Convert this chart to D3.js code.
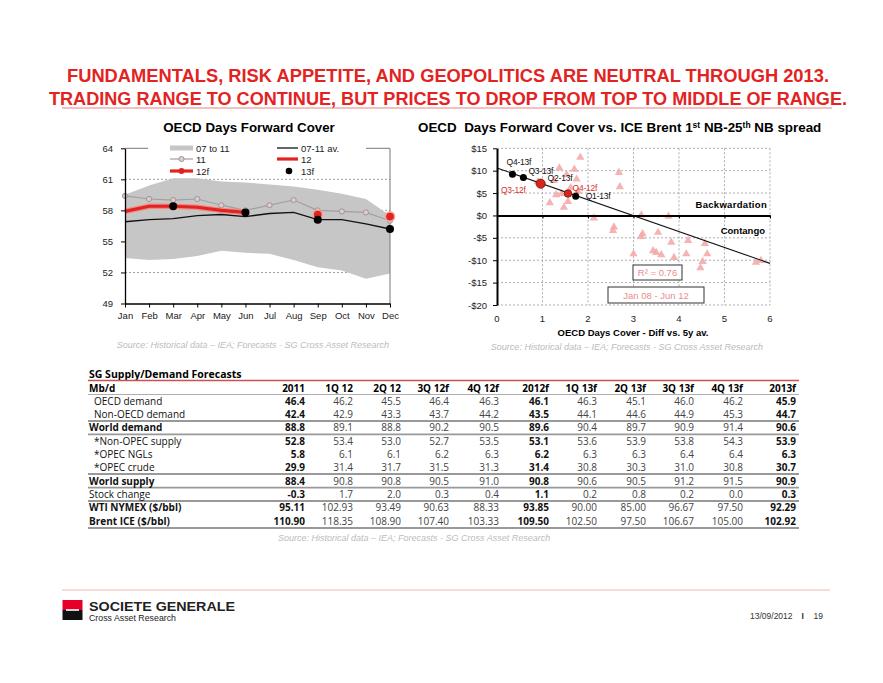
<!DOCTYPE html>
<html>
<head>
<meta charset="utf-8">
<script src="https://cdn.jsdelivr.net/npm/d3@7"></script>
<style>
    body { margin: 0; background: #fff; }
    svg { display: block; }
</style>
</head>
<body>
<div id="slide"></div>
<script>
/**
 *
 * Slide 19 - OECD forward cover & SG supply/demand table
 *
 */

// Left chart - OECD days forward cover
var months = ['Jan', 'Feb', 'Mar', 'Apr', 'May', 'Jun', 'Jul', 'Aug', 'Sep', 'Oct', 'Nov', 'Dec'];
var range0711Hi = [59.5, 60.4, 61.1, 61.1, 60.8, 60.7, 60.5, 60.3, 60.0, 59.6, 59.1, 57.5];
var range0711Lo = [53.4, 53.2, 53.3, 53.6, 54.1, 53.9, 53.8, 53.2, 52.5, 52.2, 51.4, 51.9];
var avg0711 = [56.9, 57.1, 57.2, 57.5, 57.6, 57.4, 57.7, 57.8, 57.1, 57.1, 56.7, 56.2];
var series11 = [59.4, 59.1, 59.0, 59.1, 58.5, 58.0, 58.5, 59.0, 58.0, 57.9, 57.8, 57.0];
var series12 = [57.9, 58.4, 58.4, 58.3, 58.0, 57.8];
var months12f = ['Sep', 'Dec'];
var series12f = [57.6, 57.4];
var months13f = ['Mar', 'Jun', 'Sep', 'Dec'];
var series13f = [58.4, 57.8, 57.1, 56.2];
var leftTicks = [49, 52, 55, 58, 61, 64];

// Right chart - forward cover vs Brent 1st-25th NB spread (Jan 08 - Jun 12)
var histCover = [1.83, 1.37, 1.70, 1.53, 1.75, 1.16, 1.47, 1.56, 1.42, 1.78, 0.90, 1.25, 1.30, 1.62,
    2.68, 2.70, 2.13, 2.57, 3.17, 3.77, 3.54, 3.20, 3.17, 3.83, 4.20, 4.57, 3.00, 3.43, 3.50,
    3.61, 3.89, 4.16, 4.62, 4.52, 4.47, 5.69, 5.80, 2.55];
var histSpread = [13.0, 10.6, 10.3, 9.1, 8.1, 2.8, 1.8, 3.1, 4.9, 5.4, 7.5, 7.8, 4.6, 6.2,
    9.6, 6.4, -0.6, -2.6, 0.1, -0.2, -3.8, -4.1, -4.7, -6.0, -5.6, -6.3, -8.6, -7.9, -8.3,
    -8.8, -9.4, -8.6, -8.6, -10.3, -11.7, -10.5, -10.1, -3.4];
var fcLabels = ['Q4-13f', 'Q3-13f', 'Q2-13f', 'Q3-12f', 'Q4-12f', 'Q1-13f'];
var fcCover = [0.34, 0.58, 0.98, 0.96, 1.56, 1.73];
var fcSpread = [9.2, 8.5, 7.1, 7.1, 4.9, 4.3];
var trendIntercept = 10.6;
var trendSlope = -3.55;
var spreadTicks = [-20, -15, -10, -5, 0, 5, 10, 15];
var coverTicks = [0, 1, 2, 3, 4, 5, 6];

// SG supply / demand table
var tableCols = ['2011', '1Q 12', '2Q 12', '3Q 12f', '4Q 12f', '2012f', '1Q 13f', '2Q 13f', '3Q 13f', '4Q 13f', '2013f'];
var tableRows = ['OECD demand', 'Non-OECD demand', 'World demand', '*Non-OPEC supply', '*OPEC NGLs',
    '*OPEC crude', 'World supply', 'Stock change', 'WTI NYMEX ($/bbl)', 'Brent ICE ($/bbl)'];
var tableValues = [
    ['46.4', '46.2', '45.5', '46.4', '46.3', '46.1', '46.3', '45.1', '46.0', '46.2', '45.9'],
    ['42.4', '42.9', '43.3', '43.7', '44.2', '43.5', '44.1', '44.6', '44.9', '45.3', '44.7'],
    ['88.8', '89.1', '88.8', '90.2', '90.5', '89.6', '90.4', '89.7', '90.9', '91.4', '90.6'],
    ['52.8', '53.4', '53.0', '52.7', '53.5', '53.1', '53.6', '53.9', '53.8', '54.3', '53.9'],
    ['5.8', '6.1', '6.1', '6.2', '6.3', '6.2', '6.3', '6.3', '6.4', '6.4', '6.3'],
    ['29.9', '31.4', '31.7', '31.5', '31.3', '31.4', '30.8', '30.3', '31.0', '30.8', '30.7'],
    ['88.4', '90.8', '90.8', '90.5', '91.0', '90.8', '90.6', '90.5', '91.2', '91.5', '90.9'],
    ['-0.3', '1.7', '2.0', '0.3', '0.4', '1.1', '0.2', '0.8', '0.2', '0.0', '0.3'],
    ['95.11', '102.93', '93.49', '90.63', '88.33', '93.85', '90.00', '85.00', '96.67', '97.50', '92.29'],
    ['110.90', '118.35', '108.90', '107.40', '103.33', '109.50', '102.50', '97.50', '106.67', '105.00', '102.92']
];

var width = 883;
var height = 683;
var red = '#e2231f';
var chartFont = '"Liberation Sans", Arial, sans-serif';
var tableFont = '"Open Sans", "Noto Sans", sans-serif';
var sourceText = 'Source: Historical data \u2013 IEA; Forecasts - SG Cross Asset Research';

var svg = d3.select('#slide')
    .append('svg')
    .attr('width', width)
    .attr('height', height)
    .style('font-family', chartFont);

/**
 * Slide header
 */
var headline = ['FUNDAMENTALS, RISK APPETITE, AND GEOPOLITICS ARE NEUTRAL THROUGH 2013.',
    'TRADING RANGE TO CONTINUE, BUT PRICES TO DROP FROM TOP TO MIDDLE OF RANGE.'];
var headlineWidth = [762, 798];
svg.selectAll('.headline')
    .data(headline)
    .enter()
    .append('text')
    .attr('class', 'headline')
    .attr('x', 448)
    .attr('y', function(d, i) { return 82 + i * 23; })
    .attr('text-anchor', 'middle')
    .attr('textLength', function(d, i) { return headlineWidth[i]; })
    .attr('lengthAdjust', 'spacingAndGlyphs')
    .style('font-family', '"Liberation Sans Narrow", "Liberation Sans", sans-serif')
    .style('font-weight', 'bold')
    .style('font-size', '18.5px')
    .style('fill', red)
    .text(function(d) { return d; });

svg.append('line')
    .attr('x1', 62).attr('x2', 832)
    .attr('y1', 108).attr('y2', 108)
    .style('stroke', '#e88080')
    .style('stroke-width', 1);

/**
 * Left chart
 */
var xL = d3.scalePoint().domain(months).range([125, 390]);
var yL = d3.scaleLinear().domain([49, 64]).range([303.5, 148.3]);
var left = svg.append('g').attr('class', 'left-chart');

left.append('text')
    .attr('x', 249)
    .attr('y', 132)
    .attr('text-anchor', 'middle')
    .style('font-weight', 'bold')
    .style('font-size', '13.3px')
    .text('OECD Days Forward Cover');

// dashed grid
left.selectAll('.grid')
    .data([52, 55, 58, 61])
    .enter()
    .append('line')
    .attr('x1', 125).attr('x2', 390)
    .attr('y1', function(d) { return yL(d); })
    .attr('y2', function(d) { return yL(d); })
    .style('stroke', '#888')
    .style('stroke-dasharray', '2,2')
    .style('stroke-width', 0.8);

// 07 to 11 range band
var band = d3.area()
    .x(function(d, i) { return xL(months[i]); })
    .y0(function(d, i) { return yL(range0711Lo[i]); })
    .y1(function(d) { return yL(d); });
left.append('path')
    .attr('d', band(range0711Hi))
    .style('fill', '#c6c6c6');

// frame top / right
left.append('path')
    .attr('d', 'M' + xL('Jan') + ',' + yL(64) + 'H' + xL('Dec') + 'V' + yL(49))
    .style('fill', 'none')
    .style('stroke', '#777')
    .style('stroke-width', 1);

var lineL = d3.line()
    .x(function(d, i) { return xL(months[i]); })
    .y(function(d) { return yL(d); });

left.append('path')
    .attr('d', lineL(avg0711))
    .style('fill', 'none')
    .style('stroke', '#111')
    .style('stroke-width', 1.3);

left.append('path')
    .attr('d', lineL(series11))
    .style('fill', 'none')
    .style('stroke', '#a0a0a0')
    .style('stroke-width', 1.2);
left.selectAll('.dot11')
    .data(series11)
    .enter()
    .append('circle')
    .attr('cx', function(d, i) { return xL(months[i]); })
    .attr('cy', function(d) { return yL(d); })
    .attr('r', 2.6)
    .style('fill', '#e6c8c8')
    .style('stroke', '#999')
    .style('stroke-width', 1);

left.append('path')
    .attr('d', lineL(series12))
    .style('fill', 'none')
    .style('stroke', '#f08a80')
    .style('stroke-width', 5.5);
left.append('path')
    .attr('d', lineL(series12))
    .style('fill', 'none')
    .style('stroke', red)
    .style('stroke-width', 3.2);

left.selectAll('.dot12f')
    .data(series12f)
    .enter()
    .append('circle')
    .attr('cx', function(d, i) { return xL(months12f[i]); })
    .attr('cy', function(d) { return yL(d); })
    .attr('r', 4.6)
    .style('fill', red)
    .style('stroke', '#f4a49c')
    .style('stroke-width', 1.5);

left.selectAll('.dot13f')
    .data(series13f)
    .enter()
    .append('circle')
    .attr('cx', function(d, i) { return xL(months13f[i]); })
    .attr('cy', function(d) { return yL(d); })
    .attr('r', 4)
    .style('fill', '#000');

// axes
left.append('g')
    .attr('transform', 'translate(125,0)')
    .call(d3.axisLeft(yL).tickValues(leftTicks).tickSize(4).tickSizeOuter(0).tickPadding(8))
    .call(styleAxis);
left.append('g')
    .attr('transform', 'translate(0,' + yL(49) + ')')
    .call(d3.axisBottom(xL).tickSize(4).tickSizeOuter(0).tickPadding(5))
    .call(styleAxis);

// legend
var legend = left.append('g').attr('class', 'legend');
legend.append('rect')
    .attr('x', 148).attr('y', 141)
    .attr('width', 218).attr('height', 36)
    .style('fill', '#fff');
legend.append('rect')
    .attr('x', 170).attr('y', 145.5)
    .attr('width', 23).attr('height', 5)
    .style('fill', '#c6c6c6');
legend.append('line')
    .attr('x1', 170).attr('x2', 193).attr('y1', 159).attr('y2', 159)
    .style('stroke', '#a0a0a0').style('stroke-width', 1.2);
legend.append('circle')
    .attr('cx', 181.5).attr('cy', 159).attr('r', 2.6)
    .style('fill', '#e6c8c8').style('stroke', '#999');
legend.append('line')
    .attr('x1', 170).attr('x2', 193).attr('y1', 171).attr('y2', 171)
    .style('stroke', red).style('stroke-width', 3.2);
legend.append('circle')
    .attr('cx', 181.5).attr('cy', 171).attr('r', 3)
    .style('fill', red);
legend.append('line')
    .attr('x1', 277).attr('x2', 298).attr('y1', 148).attr('y2', 148)
    .style('stroke', '#111').style('stroke-width', 1.3);
legend.append('line')
    .attr('x1', 277).attr('x2', 298).attr('y1', 159).attr('y2', 159)
    .style('stroke', red).style('stroke-width', 3.2);
legend.append('circle')
    .attr('cx', 289).attr('cy', 171).attr('r', 3.3)
    .style('fill', '#000');
var legendLabels = [['07 to 11', 196, 148], ['11', 196, 159], ['12f', 196, 171],
    ['07-11 av.', 301, 148], ['12', 301, 159], ['13f', 301, 171]];
legend.selectAll('.legend-label')
    .data(legendLabels)
    .enter()
    .append('text')
    .attr('x', function(d) { return d[1]; })
    .attr('y', function(d) { return d[2] + 3.5; })
    .style('font-size', '9.5px')
    .style('fill', '#222')
    .text(function(d) { return d[0]; });

sourceNote(svg, 253, 348, 'middle', sourceText);

/**
 * Right chart - scatter
 */
var xR = d3.scaleLinear().domain([0, 6]).range([497, 770]);
var yR = d3.scaleLinear().domain([-20, 15]).range([305, 148.3]);
var right = svg.append('g').attr('class', 'right-chart');

var rightTitle = right.append('text')
    .attr('x', 418)
    .attr('y', 132)
    .style('font-weight', 'bold')
    .style('font-size', '13.4px');
rightTitle.append('tspan').text('OECD\u00a0 Days Forward Cover vs. ICE Brent 1');
rightTitle.append('tspan').attr('dy', -4).style('font-size', '8.5px').text('st');
rightTitle.append('tspan').attr('dy', 4).text(' NB-25');
rightTitle.append('tspan').attr('dy', -4).style('font-size', '8.5px').text('th');
rightTitle.append('tspan').attr('dy', 4).text(' NB spread');

// dashed grid + frame
right.selectAll('.vgrid')
    .data(coverTicks.slice(1))
    .enter()
    .append('line')
    .attr('x1', function(d) { return xR(d); })
    .attr('x2', function(d) { return xR(d); })
    .attr('y1', yR(15)).attr('y2', yR(-20))
    .style('stroke', '#999')
    .style('stroke-dasharray', '2,2')
    .style('stroke-width', 0.8);
right.selectAll('.hgrid')
    .data(spreadTicks)
    .enter()
    .append('line')
    .attr('x1', xR(0)).attr('x2', xR(6))
    .attr('y1', function(d) { return yR(d); })
    .attr('y2', function(d) { return yR(d); })
    .style('stroke', '#999')
    .style('stroke-dasharray', '2,2')
    .style('stroke-width', 0.8);

// Jan 08 - Jun 12 history
right.selectAll('.hist')
    .data(histCover)
    .enter()
    .append('path')
    .attr('d', d3.symbol().type(d3.symbolTriangle).size(30))
    .attr('transform', function(d, i) {
        return 'translate(' + xR(d) + ',' + yR(histSpread[i]) + ')';
    })
    .style('fill', '#f3a6a6')
    .style('opacity', 0.85);

// regression
right.append('line')
    .attr('x1', xR(0)).attr('y1', yR(trendIntercept))
    .attr('x2', xR(6)).attr('y2', yR(trendIntercept + trendSlope * 6))
    .style('stroke', '#111')
    .style('stroke-width', 1.1);

// zero line + axes
right.append('g')
    .attr('transform', 'translate(0,' + yR(0) + ')')
    .call(d3.axisBottom(xR).tickValues(coverTicks).tickSize(3).tickSizeOuter(0).tickFormat(''))
    .call(function(g) {
        g.select('.domain').style('stroke', '#000').style('stroke-width', 2);
        g.selectAll('.tick line').style('stroke', '#000');
    });
right.append('g')
    .attr('transform', 'translate(' + xR(0) + ',0)')
    .call(d3.axisLeft(yR).tickValues(spreadTicks).tickSize(4).tickSizeOuter(0).tickPadding(6)
        .tickFormat(function(d) { return (d < 0 ? '-$' : '$') + Math.abs(d); }))
    .call(styleAxis)
    .call(function(g) { g.select('.domain').style('stroke-width', 2); });
right.selectAll('.xlabel')
    .data(coverTicks)
    .enter()
    .append('text')
    .attr('x', function(d) { return xR(d); })
    .attr('y', 322)
    .attr('text-anchor', 'middle')
    .style('font-size', '9.5px')
    .style('fill', '#222')
    .text(function(d) { return d; });

// forecasts: 13f black, 12f red (red drawn on top)
var fcOrder = [0, 1, 2, 5, 3, 4];
var isRed = function(i) { return fcLabels[i].indexOf('12f') > -1; };
var fcRadius = { 'Q3-12f': 4.6, 'Q4-12f': 3.8 };
right.selectAll('.fc')
    .data(fcOrder)
    .enter()
    .append('circle')
    .attr('cx', function(i) { return xR(fcCover[i]); })
    .attr('cy', function(i) { return yR(fcSpread[i]); })
    .attr('r', function(i) { return fcRadius[fcLabels[i]] || 3.5; })
    .style('fill', function(i) { return isRed(i) ? '#d8261c' : '#000'; })
    .style('stroke', function(i) { return isRed(i) ? '#7a1410' : 'none'; })
    .style('stroke-width', 0.8);

var fcOffset = {
    'Q4-13f': [-6, -9, 'start'],
    'Q3-13f': [5, -3.5, 'start'],
    'Q2-13f': [6, -2.5, 'start'],
    'Q3-12f': [-15, 9, 'end'],
    'Q4-12f': [4.5, -3, 'start'],
    'Q1-13f': [10, 3, 'start']
};
right.selectAll('.fc-label')
    .data(fcLabels)
    .enter()
    .append('text')
    .attr('x', function(d, i) { return xR(fcCover[i]) + fcOffset[d][0]; })
    .attr('y', function(d, i) { return yR(fcSpread[i]) + fcOffset[d][1]; })
    .attr('text-anchor', function(d) { return fcOffset[d][2]; })
    .style('font-size', '8.5px')
    .style('letter-spacing', '-0.2px')
    .style('fill', function(d, i) { return isRed(i) ? '#e0302a' : '#111'; })
    .text(function(d) { return d; });

right.append('text')
    .attr('x', 767).attr('y', 208)
    .attr('text-anchor', 'end')
    .style('font-weight', 'bold')
    .style('font-size', '9.5px')
    .style('letter-spacing', '0.3px')
    .text('Backwardation');
right.append('text')
    .attr('x', 765).attr('y', 234)
    .attr('text-anchor', 'end')
    .style('font-weight', 'bold')
    .style('font-size', '9.5px')
    .text('Contango');

// boxed notes
var notes = [['R\u00b2 = 0.76', 633, 265, 49, 15], ['Jan 08 - Jun 12', 608, 287, 96, 16]];
var note = right.selectAll('.note')
    .data(notes)
    .enter()
    .append('g');
note.append('rect')
    .attr('x', function(d) { return d[1]; })
    .attr('y', function(d) { return d[2]; })
    .attr('width', function(d) { return d[3]; })
    .attr('height', function(d) { return d[4]; })
    .style('fill', '#fff')
    .style('stroke', '#333')
    .style('stroke-width', 1);
note.append('text')
    .attr('x', function(d) { return d[1] + d[3] / 2; })
    .attr('y', function(d) { return d[2] + d[4] / 2 + 3.5; })
    .attr('text-anchor', 'middle')
    .style('font-size', '9.5px')
    .style('fill', '#ec8c8c')
    .text(function(d) { return d[0]; });

right.append('text')
    .attr('x', 633).attr('y', 336)
    .attr('text-anchor', 'middle')
    .style('font-weight', 'bold')
    .style('font-size', '9.5px')
    .text('OECD Days Cover - Diff vs. 5y av.');

sourceNote(svg, 627, 350, 'middle', 'Source:  Historical data \u2013 IEA; Forecasts - SG Cross Asset Research');

/**
 * Supply / demand table
 */
var colRight = [305, 353, 401, 449, 499, 549, 597, 646, 694, 743, 796];
var rowY = [401, 414.3, 427.6, 441, 454.3, 467.6, 481, 494.3, 507.6, 521];
var boldRows = [2, 6, 8, 9];
var indentRows = [0, 1, 3, 4, 5];
var boldCols = [0, 5, 10];
var table = svg.append('g')
    .attr('class', 'table')
    .style('font-family', tableFont)
    .style('font-size', '10px');

table.append('text')
    .attr('x', 89).attr('y', 377.5)
    .style('font-weight', 'bold')
    .style('font-size', '10.5px')
    .text('SG Supply/Demand Forecasts');
table.append('line')
    .attr('x1', 88).attr('x2', 799).attr('y1', 380.5).attr('y2', 380.5)
    .style('stroke', '#c8564c').style('stroke-width', 1.3);

table.append('text')
    .attr('x', 89).attr('y', 391.5)
    .style('font-weight', 'bold')
    .text('Mb/d');
table.selectAll('.col-head')
    .data(tableCols)
    .enter()
    .append('text')
    .attr('x', function(d, i) { return colRight[i]; })
    .attr('y', 391.5)
    .attr('text-anchor', 'end')
    .style('font-weight', 'bold')
    .text(function(d) { return d; });

// separators
var rules = [[394.5, 0.8], [421, 1.8], [434.3, 1.8], [474, 1.8], [487.6, 1.8], [501, 1.8], [528, 1.8]];
table.selectAll('.rule')
    .data(rules)
    .enter()
    .append('line')
    .attr('x1', 88).attr('x2', 799)
    .attr('y1', function(d) { return d[0]; })
    .attr('y2', function(d) { return d[0]; })
    .style('stroke', '#999')
    .style('stroke-width', function(d) { return d[1]; });

var row = table.selectAll('.row')
    .data(tableRows)
    .enter()
    .append('g')
    .attr('transform', function(d, i) { return 'translate(0,' + (rowY[i] + 3.5) + ')'; });
row.append('text')
    .attr('x', function(d, i) { return indentRows.indexOf(i) > -1 ? 94 : 89; })
    .style('font-weight', function(d, i) { return boldRows.indexOf(i) > -1 ? 'bold' : 'normal'; })
    .style('fill', '#111')
    .text(function(d) { return d; });
row.selectAll('.cell')
    .data(function(d, i) { return tableValues[i]; })
    .enter()
    .append('text')
    .attr('x', function(d, j) { return colRight[j]; })
    .attr('text-anchor', 'end')
    .style('font-weight', function(d, j) { return boldCols.indexOf(j) > -1 ? 'bold' : 'normal'; })
    .style('fill', function(d, j) { return boldCols.indexOf(j) > -1 ? '#111' : '#444'; })
    .text(function(d) { return d; });

sourceNote(svg, 278, 541, 'start', sourceText);

/**
 * Footer
 */
svg.append('line')
    .attr('x1', 62).attr('x2', 830).attr('y1', 590).attr('y2', 590)
    .style('stroke', '#f2b8b8').style('stroke-width', 1);
svg.append('rect')
    .attr('x', 62.5).attr('y', 600).attr('width', 20).attr('height', 10)
    .style('fill', '#e60028');
svg.append('rect')
    .attr('x', 62.5).attr('y', 610).attr('width', 20).attr('height', 10)
    .style('fill', '#111');
svg.append('rect')
    .attr('x', 66).attr('y', 609.2).attr('width', 13).attr('height', 1.6)
    .style('fill', '#fff');
svg.append('text')
    .attr('x', 89).attr('y', 611)
    .attr('textLength', 146)
    .attr('lengthAdjust', 'spacingAndGlyphs')
    .style('font-size', '12.5px')
    .style('font-weight', 'bold')
    .style('fill', '#222')
    .text('SOCIETE GENERALE');
svg.append('text')
    .attr('x', 89).attr('y', 621)
    .attr('textLength', 87)
    .attr('lengthAdjust', 'spacingAndGlyphs')
    .style('font-size', '9px')
    .style('fill', '#222')
    .text('Cross Asset Research');
svg.append('text')
    .attr('x', 750).attr('y', 619)
    .style('font-size', '8.5px')
    .style('fill', '#333')
    .text('13/09/2012');
svg.append('text')
    .attr('x', 801.5).attr('y', 619)
    .style('font-size', '8.5px')
    .style('font-weight', 'bold')
    .style('fill', '#333')
    .text('I');
svg.append('text')
    .attr('x', 813.5).attr('y', 619)
    .style('font-size', '8.5px')
    .style('fill', '#333')
    .text('19');

function styleAxis(g) {
    g.select('.domain').style('stroke', '#000').style('stroke-width', 1.3);
    g.selectAll('.tick line').style('stroke', '#000');
    g.selectAll('.tick text')
        .style('font-family', chartFont)
        .style('font-size', '9.5px')
        .style('fill', '#222');
}

function sourceNote(parent, x, y, anchor, label) {
    parent.append('text')
        .attr('x', x)
        .attr('y', y)
        .attr('text-anchor', anchor)
        .style('font-family', chartFont)
        .style('font-style', 'italic')
        .style('font-size', '9px')
        .style('fill', '#bbb')
        .text(label);
}
</script>
</body>
</html>
